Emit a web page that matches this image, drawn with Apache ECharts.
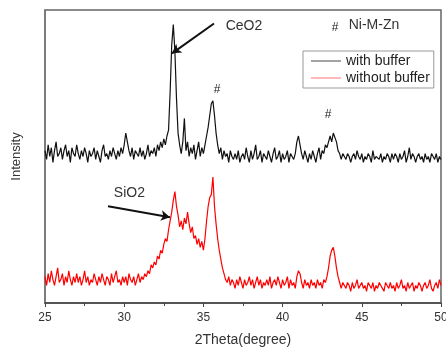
<!DOCTYPE html>
<html>
<head>
<meta charset="utf-8">
<script src="https://cdn.jsdelivr.net/npm/echarts@6/dist/echarts.min.js"></script>
<style>html,body{margin:0;padding:0;background:#fff}#c{width:446px;height:350px}</style>
</head>
<body>
<div id="c"></div>
<script>
// sampling of the 2Theta axis (degrees)
const thetaStart = 25;
const thetaStep = 0.1;
const xTicks = [25, 30, 35, 40, 45, 50];

// "with buffer" (black), one value per 0.1 degree
const withBuffer = [
  52, 49, 54, 50, 53, 48, 52, 55, 50, 51,
  53, 49, 52, 54, 50, 52, 48, 53, 51, 50,
  54, 51, 49, 52, 50, 53, 51, 48, 52, 50,
  51, 53, 49, 52, 50, 48, 52, 54, 50, 51,
  49, 52, 50, 53, 51, 49, 52, 50, 53, 51,
  54, 58, 55, 52, 50, 53, 49, 52, 51, 50,
  53, 50, 52, 49, 51, 54, 50, 52, 51, 53,
  50, 54, 52, 55, 53, 56, 54, 57, 59, 72,
  88, 95, 86, 70, 58, 54, 51, 55, 63, 52,
  55, 50, 53, 51, 54, 49, 52, 55, 50, 53,
  51, 54, 57, 60, 64, 68, 69, 64, 58, 54,
  51, 53, 49, 52, 50, 51, 48, 52, 50, 49,
  51, 49, 52, 48, 50, 51, 49, 53, 50, 48,
  52, 49, 51, 54, 49, 50, 52, 48, 51, 50,
  49, 52, 50, 48, 51, 53, 49, 50, 52, 48,
  51, 49, 50, 52, 48, 51, 50, 49, 51, 55,
  57, 54, 51, 49, 52, 50, 48, 51, 49, 52,
  50, 48, 51, 53, 49, 52, 51, 54, 53, 55,
  57, 55, 58, 58, 55, 52, 51, 49, 51, 50,
  49, 51, 50, 48, 50, 51, 49, 52, 50, 49,
  51, 48, 50, 49, 51, 50, 48, 52, 49, 50,
  50, 49, 51, 48, 50, 49, 51, 50, 48, 51,
  49, 51, 50, 48, 51, 49, 50, 52, 48, 50,
  53, 49, 51, 50, 48, 50, 51, 49, 50, 48,
  51, 49, 50, 48, 51, 50, 49, 51, 48, 50,
  49
];

// "without buffer" (red)
const withoutBuffer = [
  9, 6, 10, 7, 11, 8, 6, 9, 12, 7,
  8, 10, 6, 9, 7, 11, 8, 6, 9, 7,
  10, 7, 9, 6, 8, 11, 7, 9, 6, 8,
  7, 10, 8, 6, 9, 7, 10, 8, 6, 9,
  8, 6, 10, 7, 9, 11, 7, 8, 6, 9,
  7, 9, 6, 10, 8, 7, 9, 6, 8, 10,
  7, 9, 8, 10, 9, 11, 10, 13, 12, 14,
  13, 16, 15, 18, 17, 20, 22, 21, 25, 28,
  31, 35, 38, 33, 30, 26, 28, 25, 29, 27,
  31, 27, 24, 26, 22, 23, 20, 22, 19, 21,
  18, 22, 28, 33, 36, 37, 43, 33, 27, 22,
  18, 15, 12, 10, 8, 7, 9, 6, 8, 7,
  5, 8, 6, 9, 7, 5, 8, 6, 7, 9,
  6, 8, 5, 7, 9, 6, 8, 5, 7, 6,
  8, 6, 9, 5, 7, 8, 6, 9, 7, 5,
  8, 6, 7, 9, 5, 8, 6, 7, 5, 9,
  11, 10, 7, 5, 8, 6, 7, 5, 8, 6,
  7, 5, 8, 6, 7, 5, 8, 7, 9, 12,
  16, 18, 19, 16, 12, 9, 7, 5, 7, 6,
  5, 7, 6, 4, 7, 5, 6, 8, 5, 6,
  7, 5, 6, 4, 7, 6, 5, 7, 4, 6,
  5, 7, 6, 5, 4, 7, 6, 5, 7, 5,
  6, 4, 7, 5, 6, 8, 5, 6, 4, 7,
  5, 6, 7, 4, 6, 5, 7, 6, 4, 6,
  7, 5, 6, 8, 5, 4, 6, 7, 5, 8,
  6
];

// annotation texts [x, y, text]
const labels = [
  [37.56, 94.4, 'CeO2'],
  [30.33, 37.5, 'SiO2'],
  [35.86, 72.9, '#'],
  [42.87, 64.4, '#'],
  [43.31, 94.0, '#'],
  [45.77, 94.7, 'Ni-M-Zn']
];
// arrows [fromX, fromY, toX, toY]
const arrows = [
  [35.67, 95.4, 33.02, 85.2],
  [28.98, 33.0, 32.89, 29.3]
];

function pairs(vals) {
  return vals.map((v, i) => [+(thetaStart + i * thetaStep).toFixed(2), v]);
}

const chart = echarts.init(document.getElementById('c'), null, {renderer: 'canvas'});
chart.setOption({
  animation: false,
  backgroundColor: '#fff',
  grid: {left: 45, right: 5, top: 10, bottom: 47, outerBoundsMode: 'none', containLabel: false,
    show: true, borderColor: '#666', borderWidth: 1.5},
  legend: {
    left: 303, top: 51, orient: 'vertical',
    icon: 'rect', itemWidth: 30, itemHeight: 1.2, itemGap: 3, itemTextGap: 4,
    padding: [3, 4, 3, 8],
    borderColor: '#999', borderWidth: 1, backgroundColor: '#fff',
    textStyle: {fontFamily: 'Liberation Sans, Arial', fontSize: 14, color: '#222', lineHeight: 14},
    data: [
      {name: 'with buffer', itemStyle: {color: '#666'}},
      {name: 'without buffer', itemStyle: {color: '#ff8a8a'}}
    ]
  },
  xAxis: {
    type: 'value', min: 25, max: 50, interval: 5,
    name: '2Theta(degree)', nameLocation: 'middle', nameGap: 30,
    nameTextStyle: {fontFamily: 'Liberation Sans, Arial', fontSize: 14, color: '#333'},
    axisLine: {lineStyle: {color: '#444', width: 1.5}},
    axisTick: {show: true, length: 4, lineStyle: {color: '#444'}},
    minorTick: {show: true, splitNumber: 2, length: 3, lineStyle: {color: '#444'}},
    axisLabel: {fontFamily: 'Liberation Sans, Arial', fontSize: 12, color: '#333', margin: 9,
      formatter: v => String(v)},
    splitLine: {show: false}
  },
  yAxis: {
    type: 'value', min: 0, max: 100,
    name: 'Intensity', nameLocation: 'middle', nameGap: 22,
    nameTextStyle: {fontFamily: 'Liberation Sans, Arial', fontSize: 13, color: '#333'},
    axisLine: {show: true, lineStyle: {color: '#777', width: 1.5}},
    axisTick: {show: false}, axisLabel: {show: false}, splitLine: {show: false}
  },
  series: [
    {
      name: 'with buffer', type: 'line', data: pairs(withBuffer),
      showSymbol: false, symbol: 'none', silent: true,
      lineStyle: {color: '#111', width: 1.2}, itemStyle: {color: '#111'},
      markLine: {
        silent: true, symbol: ['none', 'arrow'], symbolSize: [8, 9],
        lineStyle: {color: '#111', width: 2, type: 'solid'},
        label: {show: false},
        data: arrows.map(a => [{coord: [a[0], a[1]]}, {coord: [a[2], a[3]]}])
      },
      markPoint: {
        silent: true, symbol: 'rect', symbolSize: 1, itemStyle: {color: 'rgba(0,0,0,0)'},
        label: {show: true, position: 'inside', formatter: p => p.name,
          fontFamily: 'Liberation Sans, Arial', fontSize: 14, color: '#333'},
        data: labels.map(l => ({coord: [l[0], l[1]], name: l[2],
          label: l[2] === '#' ? {fontSize: 12, color: '#222'} : {}}))
      }
    },
    {
      name: 'without buffer', type: 'line', data: pairs(withoutBuffer),
      showSymbol: false, symbol: 'none', silent: true,
      lineStyle: {color: '#ff0000', width: 1.2}, itemStyle: {color: '#ff0000'}
    }
  ]
});
</script>
</body>
</html>
